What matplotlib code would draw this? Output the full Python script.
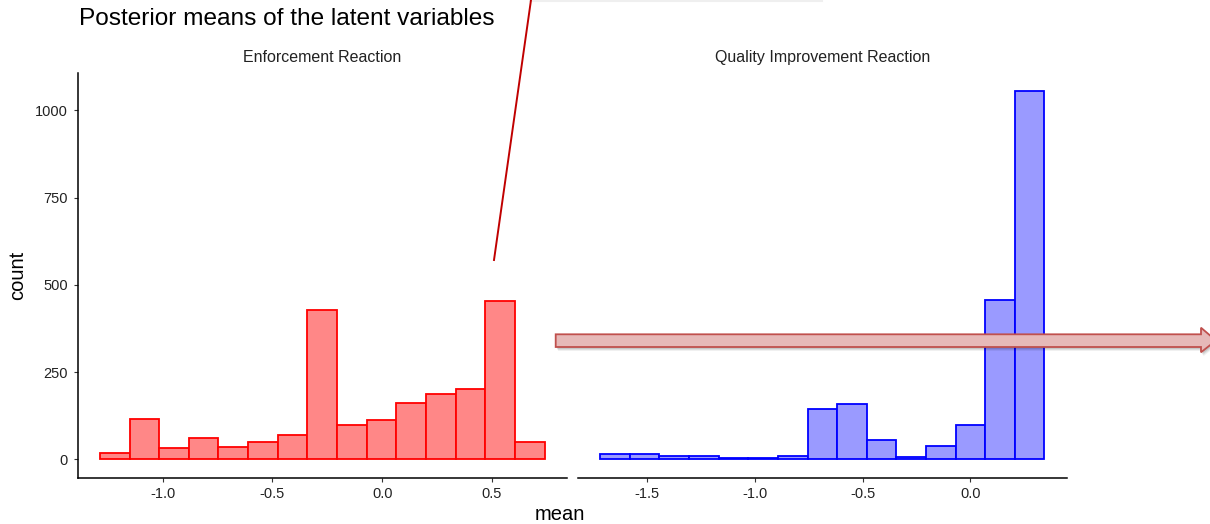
import matplotlib.pyplot as plt
import numpy as np
from matplotlib.patches import Polygon
from matplotlib.lines import Line2D

plt.rcParams['font.family'] = ['Liberation Sans', 'DejaVu Sans']
plt.rcParams['axes.unicode_minus'] = False

# histogram data
enf_start = -1.286
enf_binwidth = 0.1351
enf_counts = [17, 115, 33, 62, 36, 50, 69, 427, 98, 113, 160, 188, 202, 455, 50]

qual_start = -1.719
qual_binwidth = 0.1376
qual_counts = [15, 15, 9, 9, 5, 3, 8, 143, 158, 55, 7, 38, 97, 456, 1055]

enf_ticks = [-1.0, -0.5, 0.0, 0.5]
qual_ticks = [-1.5, -1.0, -0.5, 0.0]
y_ticks = [0, 250, 500, 750, 1000]


def style_axis(ax, left_axis):
    for s in ['top', 'right']:
        ax.spines[s].set_visible(False)
    ax.spines['bottom'].set_linewidth(1.1)
    if left_axis:
        ax.spines['left'].set_linewidth(1.1)
        ax.set_yticks(y_ticks)
    else:
        ax.spines['left'].set_visible(False)
        ax.tick_params(axis='y', left=False, labelleft=False)
    ax.tick_params(length=3, width=0.8, color='#333333', labelsize=10.5,
                   labelcolor='#222222', pad=4)


def draw_hist(ax, start, bw, counts, fill, edge):
    counts = np.array(counts)
    edges = start + bw * np.arange(len(counts) + 1)
    ax.bar(edges[:-1], counts, width=bw, align='edge', color=fill,
           edgecolor=edge, linewidth=1.3)
    span = edges[-1] - edges[0]
    ax.set_xlim(edges[0] - 0.05 * span, edges[-1] + 0.05 * span)


def main():
    W, H = 1210, 524
    fig = plt.figure(figsize=(W / 100, H / 100), dpi=100)

    ax1 = fig.add_axes([77.6 / W, 1 - 477.7 / H, 489.4 / W, 405 / H])
    ax2 = fig.add_axes([578 / W, 1 - 477.7 / H, 488.7 / W, 405 / H])

    draw_hist(ax1, enf_start, enf_binwidth, enf_counts, '#ff8787', '#ff0000')
    draw_hist(ax2, qual_start, qual_binwidth, qual_counts, '#9a9aff', '#0000ff')

    ymax = max(max(enf_counts), max(qual_counts))
    for ax in (ax1, ax2):
        ax.set_ylim(-0.05 * ymax, 1.05 * ymax)

    ax1.set_xticks(enf_ticks)
    ax1.set_xticklabels([f'{t:.1f}' for t in enf_ticks])
    ax2.set_xticks(qual_ticks)
    ax2.set_xticklabels([f'{t:.1f}' for t in qual_ticks])
    style_axis(ax1, True)
    style_axis(ax2, False)

    ax1.set_ylabel('count', fontsize=14.5, labelpad=6)
    ax1.set_title('Enforcement Reaction', fontsize=11.5, color='#222222', pad=8)
    ax2.set_title('Quality Improvement Reaction', fontsize=11.5, color='#222222', pad=8)
    fig.text(560 / W, 1 - 515 / H, 'mean', ha='center', va='center', fontsize=14.5)
    fig.text(79 / W, 1 - 19 / H, 'Posterior means of the latent variables',
             ha='left', va='center', fontsize=17.6)

    # faint grey line at the very top
    fig.add_artist(Line2D([530 / W, 822 / W], [1 - 1 / H, 1 - 1 / H],
                          color='#efefef', linewidth=1.5))

    # red pointer line
    fig.add_artist(Line2D([531 / W, 494 / W], [1 - 0 / H, 1 - 260 / H],
                          color='#c00000', linewidth=1.4))

    # block arrow with soft shadow
    pts = np.array([[555.7, 334.3], [1201, 334.3], [1201, 327.7], [1216, 340.5],
                    [1201, 352.3], [1201, 347], [555.7, 347]])
    for off, a in [(4, 0.06), (3, 0.08), (2, 0.1)]:
        sh = pts + [off * 0.6, off]
        fig.add_artist(Polygon(np.column_stack([sh[:, 0] / W, 1 - sh[:, 1] / H]),
                               closed=True, transform=fig.transFigure,
                               facecolor='black', edgecolor='none', alpha=a))
    fig.add_artist(Polygon(np.column_stack([pts[:, 0] / W, 1 - pts[:, 1] / H]),
                           closed=True, transform=fig.transFigure,
                           facecolor='#e6b9b8', edgecolor='#c0504d', linewidth=1.3))

    fig.savefig('out.png', dpi=100)


if __name__ == '__main__':
    main()
